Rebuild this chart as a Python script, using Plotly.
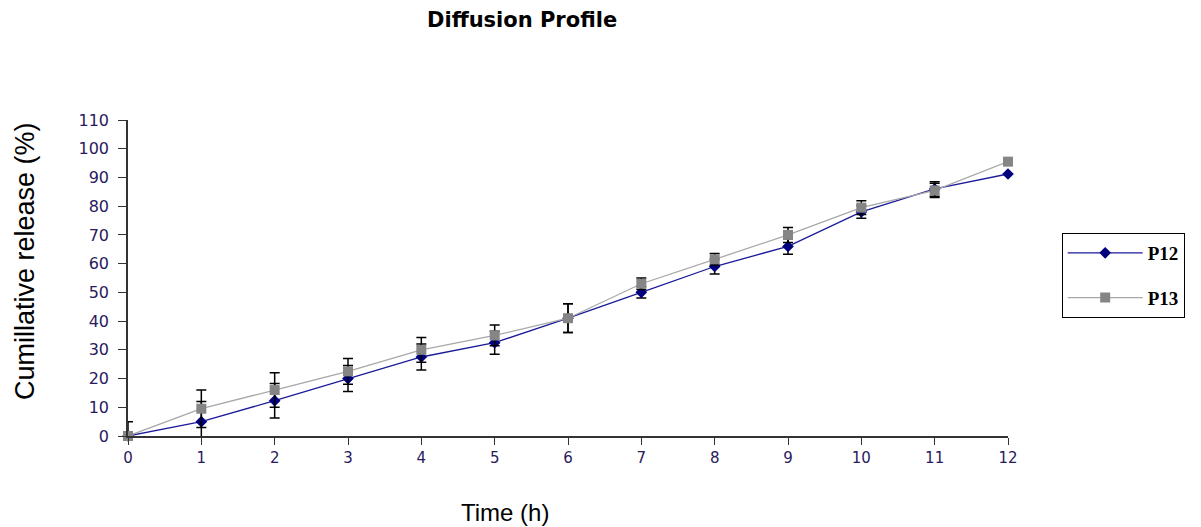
import plotly.graph_objects as go

time_h = [0, 1, 2, 3, 4, 5, 6, 7, 8, 9, 10, 11, 12]
p12 = [0, 5, 12.3, 20, 27.5, 32.5, 41, 50, 59, 66, 78, 86, 91.2]
p12_err = [5, 7, 6, 4.5, 4.5, 4, 5, 2, 2.6, 2.7, 2.2, 2.5, 0]
p13 = [0, 9.5, 16, 22.5, 30, 35, 41, 53, 61.5, 70, 79.5, 85.5, 95.5]
p13_err = [0, 6.5, 6, 4.5, 4.3, 3.6, 5, 2, 2, 2.6, 2.4, 2.5, 0]
y_ticks = list(range(0, 111, 10))

fig = go.Figure()
fig.add_trace(go.Scatter(
    x=time_h, y=p12, name="P12", mode="lines+markers",
    line=dict(color="#1a1a9a", width=1.3),
    marker=dict(symbol="diamond", size=9, color="#00007f"),
    error_y=dict(type="data", array=p12_err, color="black", thickness=1.5, width=5),
    legendgroup="a", cliponaxis=False,
))
fig.add_trace(go.Scatter(
    x=time_h, y=p13, name="P13", mode="lines+markers",
    line=dict(color="#a8a8a8", width=1.3),
    marker=dict(symbol="square", size=10, color="#858585"),
    error_y=dict(type="data", array=p13_err, color="black", thickness=1.5, width=5),
    legendgroup="b", cliponaxis=False,
))

fig.update_layout(
    width=1201, height=527,
    margin=dict(l=128, r=193, t=120, b=91),
    paper_bgcolor="white", plot_bgcolor="white",
    font=dict(family="DejaVu Sans, Arial", color="black"),
    showlegend=True,
    legend=dict(
        x=1.061, y=(436 - 233) / 316, xanchor="left", yanchor="top",
        bordercolor="black", borderwidth=1, bgcolor="white",
        font=dict(family="Liberation Serif, Times New Roman", size=19, color="black", weight="bold"),
        tracegroupgap=17, itemwidth=75,
    ),
    xaxis=dict(
        range=[0, 12], tickmode="array", tickvals=time_h, ticks="outside", ticklen=7,
        tickcolor="#333", showline=True, linecolor="#333", linewidth=1.5,
        showgrid=False, zeroline=False, ticklabelstandoff=0,
        tickfont=dict(size=15, color="#2a1a5e", family="DejaVu Sans, Arial"),
    ),
    yaxis=dict(
        range=[0, 110], tickmode="array", tickvals=y_ticks, ticks="outside", ticklen=8,
        tickcolor="#333", showline=True, linecolor="#333", linewidth=1.5,
        showgrid=False, zeroline=False, ticklabelstandoff=6,
        tickfont=dict(size=16, color="#2a1a5e", family="DejaVu Sans, Arial"),
    ),
    annotations=[
        dict(text="<b>Diffusion Profile</b>", xref="paper", yref="paper",
             x=(522 - 128) / 880, y=(436 - 20) / 316, xanchor="center", yanchor="middle",
             showarrow=False, font=dict(size=21, family="DejaVu Sans, Arial")),
        dict(text="Time (h)", xref="paper", yref="paper",
             x=(505 - 128) / 880, y=(436 - 512) / 316, xanchor="center", yanchor="middle",
             showarrow=False, font=dict(size=24, family="Liberation Sans Narrow, Liberation Sans, Arial")),
        dict(text="Cumillative release (%)", xref="paper", yref="paper", textangle=-90,
             x=(25 - 128) / 880, y=(436 - 261) / 316, xanchor="center", yanchor="middle",
             showarrow=False, font=dict(size=27, family="Liberation Sans, Arial")),
    ],
)

fig.write_html("out.html")
